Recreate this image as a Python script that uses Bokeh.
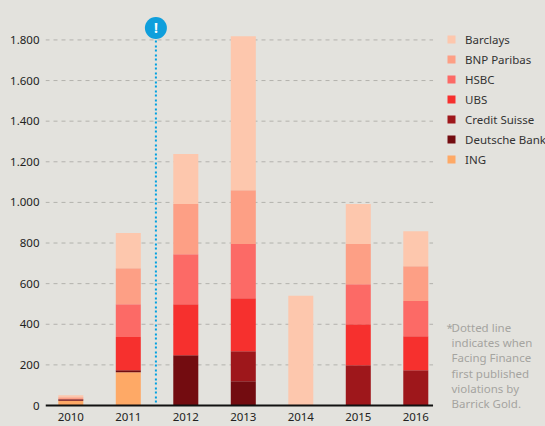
from bokeh.plotting import figure
from bokeh.models import ColumnDataSource, Legend, LegendItem, FixedTicker
from bokeh.embed import file_html
from bokeh.resources import INLINE
from bokeh.core.properties import value

FONT = "Noto Sans"
years = [2010, 2011, 2012, 2013, 2014, 2015, 2016]
ing = [23, 164, 0, 0, 0, 0, 0]
deutsche = [8, 10, 248, 120, 0, 0, 0]
credit = [0, 0, 0, 147, 0, 198, 174]
ubs = [0, 163, 251, 261, 0, 202, 167]
hsbc = [0, 162, 246, 267, 0, 197, 173]
bnp = [10, 177, 247, 265, 0, 198, 172]
barclays = [9, 173, 246, 758, 540, 197, 172]
series = ["ING", "Deutsche Bank", "Credit Suisse", "UBS", "HSBC", "BNP Paribas", "Barclays"]
colors = ["#fea966", "#730c10", "#9e171b", "#f6302e", "#fc6a66", "#fd9f85", "#fdc7ad"]
y_ticks = [0, 200, 400, 600, 800, 1000, 1200, 1400, 1600, 1800]
y_labels = ["0", "200", "400", "600", "800", "1.000", "1.200", "1.400", "1.600", "1.800"]
note_lines = ["Dotted line", "indicates when", "Facing Finance", "first published", "violations by", "Barrick Gold."]
dotted_x = [2011.48, 2011.48]
dotted_y = [15, 1859]
BG = "#e3e2dd"

X0, X1 = 2009.56, 2018.256
GRID_END = 2016.30
YMIN = -24.6
p = figure(width=545, height=426, output_backend="svg", toolbar_location=None,
           x_range=(X0, X1), y_range=(YMIN, 1940), background_fill_color=BG,
           border_fill_color=BG, outline_line_color=None)
p.frame_width = 500
p.frame_height = 399
p.min_border_top = 11
p.min_border_bottom = 16
p.min_border_left = 45
p.min_border_right = 0

p.xaxis.ticker = FixedTicker(ticks=years)
p.xaxis.major_tick_line_color = None
p.xaxis.minor_tick_line_color = None
p.xaxis.major_tick_out = 0
p.xaxis.axis_line_color = None
p.xaxis.major_label_text_font = FONT
p.xaxis.major_label_text_font_size = "11.5px"
p.xaxis.major_label_text_color = "#222222"
p.xaxis.major_label_standoff = 2
p.yaxis.ticker = FixedTicker(ticks=y_ticks)
p.yaxis.major_label_overrides = {t: s for t, s in zip(y_ticks, y_labels)}
p.yaxis.major_tick_line_color = None
p.yaxis.minor_tick_line_color = None
p.yaxis.major_tick_out = 0
p.yaxis.axis_line_color = None
p.yaxis.major_label_text_font = FONT
p.yaxis.major_label_text_font_size = "11.5px"
p.yaxis.major_label_text_color = "#222222"
p.yaxis.major_label_standoff = 6
p.xgrid.visible = False
p.ygrid.visible = False

n = len(y_ticks) - 1
p.segment([X0] * n, y_ticks[1:], [GRID_END] * n, y_ticks[1:], line_color="#b3b2ad",
          line_dash="4 4", line_width=1)

data = dict(year=years)
for name, vals in zip(series, [ing, deutsche, credit, ubs, hsbc, bnp, barclays]):
    data[name] = vals
src = ColumnDataSource(data)
rs = p.vbar_stack(series, x="year", width=0.435, color=colors, source=src, line_color=None)
p.segment([X0], [0], [GRID_END], [0], line_color="#111111", line_width=2)

items = [LegendItem(label=value(s), renderers=[r]) for s, r in zip(series, rs)]
order = ["Barclays", "BNP Paribas", "HSBC", "UBS", "Credit Suisse", "Deutsche Bank", "ING"]
items = [items[series.index(s)] for s in order]
legend = Legend(items=items, location=(401, 243), orientation="vertical",
                background_fill_alpha=0, border_line_color=None,
                glyph_width=10, glyph_height=10, label_standoff=9, spacing=4,
                padding=0, margin=0, label_text_font=FONT, label_text_font_size="11.5px",
                label_text_color="#333333", label_height=16)
p.add_layout(legend, "center")

p.line(dotted_x, dotted_y, line_color="#00a0e0", line_width=2, line_dash="2 2 2 3")
p.scatter([dotted_x[1]], [dotted_y[1]], size=22, marker="circle", fill_color="#0f9fdc", line_color=None)
p.text([dotted_x[1]], [dotted_y[1]], text=["!"], text_color="white", text_font=value(FONT),
       text_font_style="bold", text_font_size="14px", text_align="center", text_baseline="middle")

note_x = X0 + (451 - 45) / 57.5
note_ys = [384 - i * 75 for i in range(len(note_lines))]
p.text([note_x] * len(note_lines), note_ys, text=note_lines, text_color="#a5a4a0",
       text_font=value(FONT), text_font_size="11.5px", text_baseline="middle", text_align="left")
p.text([note_x], [384], text=["*"], x_offset=-5, text_color="#a5a4a0",
       text_font=value(FONT), text_font_size="11.5px", text_baseline="middle", text_align="left")

html = file_html(p, INLINE)
html = html.replace("<head>", "<head><style>html,body{background:%s;overflow:hidden}</style>" % BG, 1)
open("out.html", "w").write(html)
